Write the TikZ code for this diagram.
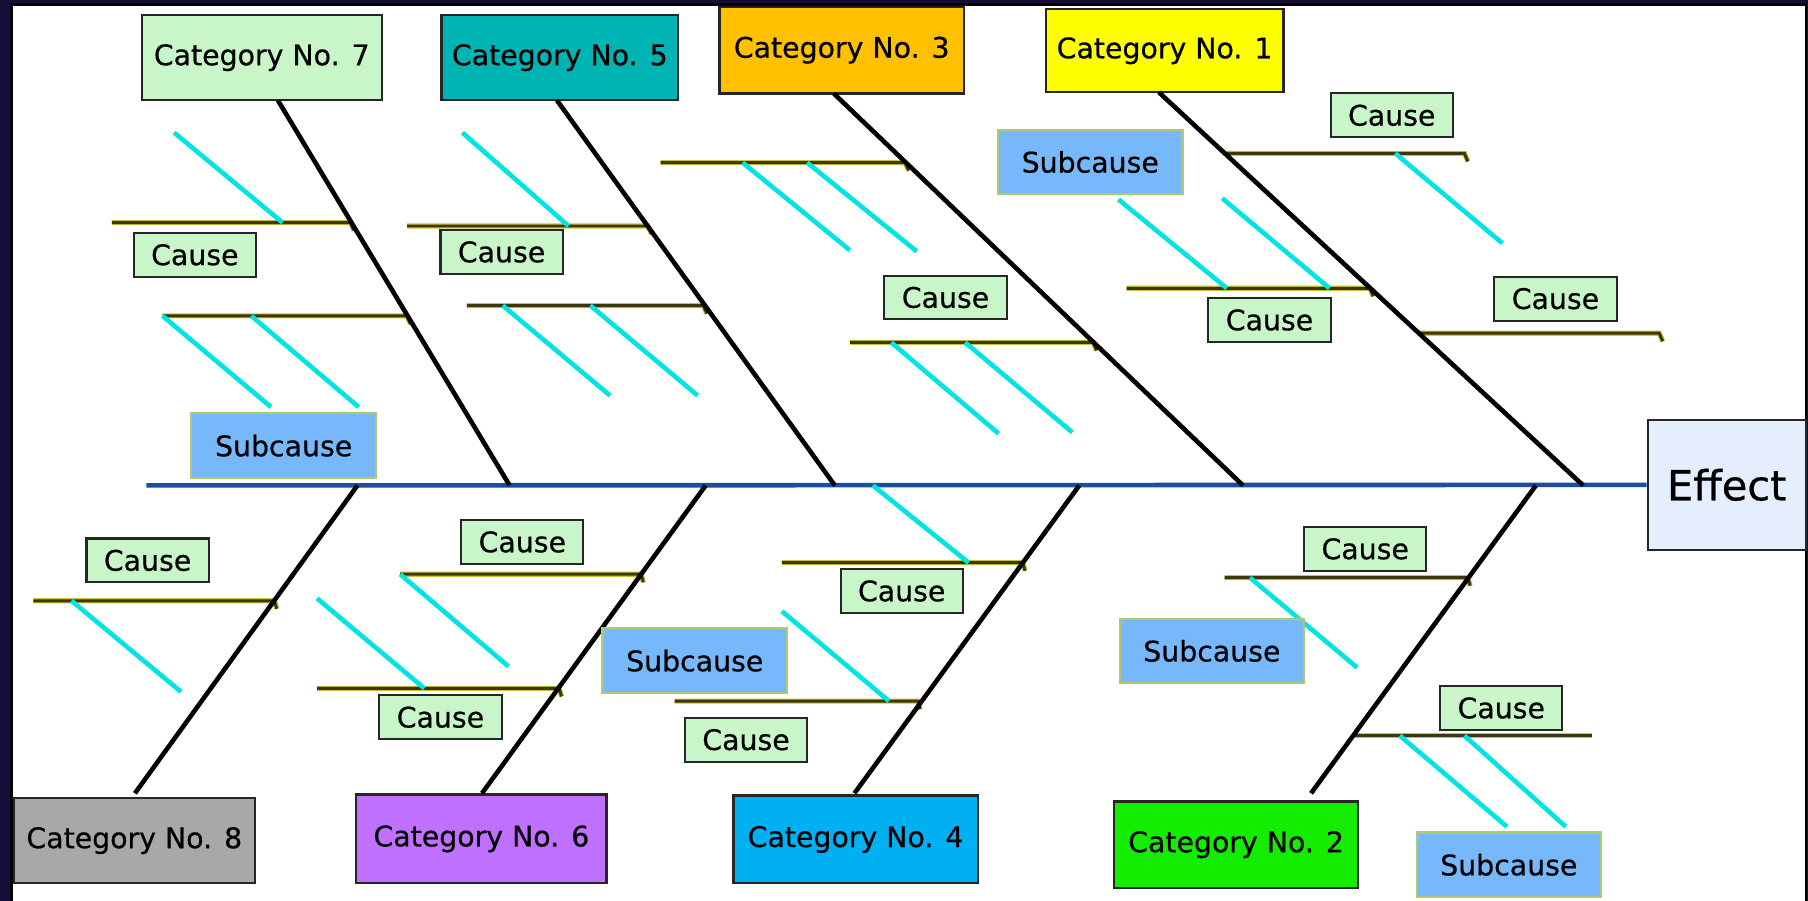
\documentclass[tikz,border=0pt]{standalone}
\usepackage{fontspec}
\setmainfont{DejaVu Sans}[FakeBold=0.6]
\definecolor{bgdark}{RGB}{24,12,58}
\definecolor{causegreen}{RGB}{200,246,200}
\definecolor{catteal}{RGB}{0,180,180}
\definecolor{catorange}{RGB}{255,192,0}
\definecolor{catyellow}{RGB}{255,255,0}
\definecolor{catgray}{RGB}{168,168,168}
\definecolor{catpurple}{RGB}{192,112,255}
\definecolor{catsky}{RGB}{0,176,240}
\definecolor{catgreen}{RGB}{20,236,0}
\definecolor{effectblue}{RGB}{228,238,252}
\definecolor{subblue}{RGB}{118,184,250}
\definecolor{subedge}{RGB}{176,200,110}
\definecolor{spineblue}{RGB}{26,78,160}
\definecolor{cyanline}{RGB}{0,228,228}
\definecolor{ribdark}{RGB}{60,55,12}
\definecolor{ribedge}{RGB}{205,195,50}
\begin{document}
\begin{tikzpicture}[x=0.5pt,y=-0.5pt,
  box/.style={draw=black!85, line width=0.9pt, inner sep=0pt, align=center,
              font=\fontsize{12.3}{14}\selectfont},
  catbox/.style={box, line width=1pt},
  cause/.style={box, fill=causegreen, minimum width=53pt, minimum height=19pt},
  sub/.style={box, draw=subedge, fill=subblue, minimum width=80pt, minimum height=28pt},
  bone/.style={line width=2pt, black},
  spine/.style={line width=2pt, spineblue},
  twig/.style={line width=2pt, cyanline},
  rib/.style={draw=ribdark, line width=1.3pt, preaction={draw=ribedge, line width=2.2pt}}
]
\useasboundingbox (0,0) rectangle (1568,781);
\fill[bgdark] (0,0) rectangle (1568,781);
\fill[white] (10,4) rectangle (1566,781);
\draw[black, line width=1pt] (10,781) -- (10,4) -- (1566,4) -- (1566,781);

% category boxes
\node[catbox, fill=causegreen, minimum width=104pt, minimum height=37pt] (cat7) at (227,50) {Category No. 7};
\node[catbox, fill=catteal, minimum width=102.5pt, minimum height=37pt] (cat5) at (485.5,50) {Category No. 5};
\node[catbox, fill=catorange, minimum width=106pt, minimum height=37.5pt] (cat3) at (730,43.5) {Category No. 3};
\node[catbox, fill=catyellow, minimum width=103pt, minimum height=36pt] (cat1) at (1010,44) {Category No. 1};
\node[catbox, fill=catgray, minimum width=104.5pt, minimum height=37pt] (cat8) at (116.5,729) {Category No. 8};
\node[catbox, fill=catpurple, minimum width=108.5pt, minimum height=38.5pt] (cat6) at (417.5,727.5) {Category No. 6};
\node[catbox, fill=catsky, minimum width=106pt, minimum height=38pt] (cat4) at (742,728) {Category No. 4};
\node[catbox, fill=catgreen, minimum width=106pt, minimum height=37.5pt] (cat2) at (1072,732.5) {Category No. 2};
\node[catbox, fill=effectblue, minimum width=68.5pt, minimum height=56.5pt,
      font=\fontsize{18}{20}\selectfont] (eff) at (1497.5,420.5) {Effect};

% spine
\coordinate (spL) at (127,421);
\draw[spine] (spL) -- (eff.west);

% bone coordinates
\coordinate (t7) at (241,87);   \coordinate (p7) at (442,421);
\coordinate (t5) at (483,87);   \coordinate (p5) at (724,421);
\coordinate (t3) at (723,81);   \coordinate (p3) at (1078,421);
\coordinate (t1) at (1005,80);  \coordinate (p1) at (1373,421);
\coordinate (t8) at (117,688);  \coordinate (p8) at (310,421);
\coordinate (t6) at (418,688);  \coordinate (p6) at (612,421);
\coordinate (t4) at (741,688);  \coordinate (p4) at (936,421);
\coordinate (t2) at (1137,688); \coordinate (p2) at (1332,421);

% ribs (olive horizontal lines)
\draw[rib] (97,193) -- (304,193) -- ++(3,7);
\draw[rib] (141,274) -- (353,274) -- ++(3,7);
\draw[rib] (353,196) -- (562,196) -- ++(3,7);
\draw[rib] (405,265) -- (610,265) -- ++(3,7);
\draw[rib] (573,141) -- (785,141) -- ++(3,7);
\draw[rib] (737,297) -- (948,297) -- ++(3,7);
\draw[rib] (977,250) -- (1188,250) -- ++(3,7);
\draw[rib] (1062,133) -- (1270,133) -- ++(3,7);
\draw[rib] (1231,289) -- (1439,289) -- ++(3,7);
\draw[rib] (29,521) -- (238,521) -- ++(2,7);
\draw[rib] (347,498) -- (556,498) -- ++(2,7);
\draw[rib] (275,597) -- (485,597) -- ++(2,7);
\draw[rib] (678,488) -- (887,488) -- ++(2,7);
\draw[rib] (585,608) -- (796,608) -- ++(2,7);
\draw[rib] (1062,501) -- (1273,501) -- ++(2,7);
\draw[rib] (1173,638) -- (1381,638);

% bones
\draw[bone] (t7) -- (p7);
\draw[bone] (t5) -- (p5);
\draw[bone] (t3) -- (p3);
\draw[bone] (t1) -- (p1);
\draw[bone] (p8) -- (t8);
\draw[bone] (p6) -- (t6);
\draw[bone] (p4) -- (t4);
\draw[bone] (p2) -- (t2);

% cyan sub-cause lines
\draw[twig] (151,115) -- (245,193);
\draw[twig] (141,274) -- (235,353);
\draw[twig] (218,274) -- (311,353);
\draw[twig] (401,115) -- (493,196);
\draw[twig] (436,265) -- (529,343);
\draw[twig] (512,265) -- (605,343);
\draw[twig] (644,141) -- (737,217);
\draw[twig] (700,141) -- (795,218);
\draw[twig] (773,297) -- (866,376);
\draw[twig] (837,297) -- (930,375);
\draw[twig] (970,173) -- (1064,250);
\draw[twig] (1060,172) -- (1153,250);
\draw[twig] (1210,133) -- (1303,211);
\draw[twig] (62,521) -- (157,600);
\draw[twig] (347,498) -- (441,578);
\draw[twig] (275,519) -- (368,597);
\draw[twig] (757,421) -- (840,488);
\draw[twig] (678,530) -- (771,608);
\draw[twig] (1084,501) -- (1177,579);
\draw[twig] (1214,638) -- (1307,717);
\draw[twig] (1270,638) -- (1358,717);

% cause boxes
\node[cause] (c1) at (169,221) {Cause};
\node[cause] (c2) at (435,218.5) {Cause};
\node[cause] (c3) at (820,258) {Cause};
\node[cause] (c4) at (1101,277.5) {Cause};
\node[cause] (c5) at (1207,100) {Cause};
\node[cause] (c6) at (1349,259) {Cause};
\node[cause] (c7) at (128,486) {Cause};
\node[cause] (c8) at (453,470) {Cause};
\node[cause] (c9) at (382,622) {Cause};
\node[cause] (c10) at (782,512.5) {Cause};
\node[cause] (c11) at (647,641.5) {Cause};
\node[cause] (c12) at (1184,476) {Cause};
\node[cause] (c13) at (1302,614) {Cause};

% subcause boxes
\node[sub] (s1) at (246,386.5) {Subcause};
\node[sub] (s2) at (945.5,140.5) {Subcause};
\node[sub] (s3) at (602.5,573) {Subcause};
\node[sub] (s4) at (1051,564.5) {Subcause};
\node[sub] (s5) at (1308.5,750) {Subcause};
\end{tikzpicture}
\end{document}
